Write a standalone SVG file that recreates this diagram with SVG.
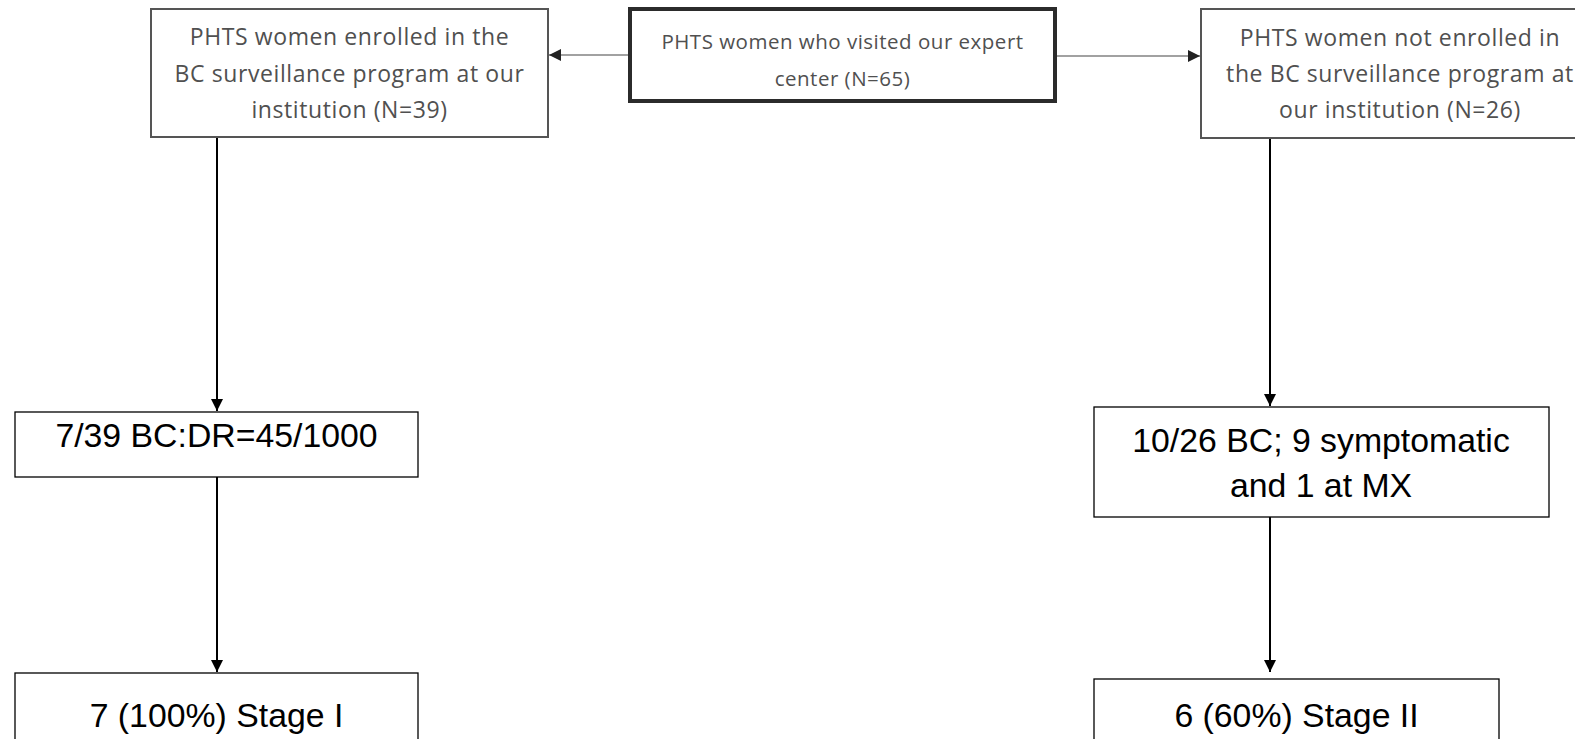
<svg xmlns="http://www.w3.org/2000/svg" width="1575" height="739" viewBox="0 0 1575 739">
<defs>
<style>
.top{fill:#fff;stroke:#555;stroke-width:2}
.center{fill:#fff;stroke:#2b2b2b;stroke-width:4}
.box{fill:#fff;stroke:#000;stroke-width:1.3}
.tt{font-family:"Open Sans",sans-serif;font-size:23px;letter-spacing:0.6px;fill:#505050;text-anchor:middle}
.ct{font-size:20.5px;letter-spacing:0.5px}
.bt{font-family:"Liberation Sans",sans-serif;font-size:33.8px;fill:#000;text-anchor:middle}
.con{stroke:#000;stroke-width:2;fill:none}
.thin{stroke:#444;stroke-width:1.2;fill:none}
</style>
<marker id="ah" viewBox="0 0 10 10" refX="10" refY="5" markerWidth="12" markerHeight="12" markerUnits="userSpaceOnUse" orient="auto">
<path d="M0,0 L10,5 L0,10 z" fill="#000"/>
</marker>
<marker id="ahg" viewBox="0 0 10 10" refX="10" refY="5" markerWidth="12" markerHeight="12" markerUnits="userSpaceOnUse" orient="auto">
<path d="M0,0 L10,5 L0,10 z" fill="#222"/>
</marker>
</defs>
<rect width="1575" height="739" fill="#fff"/>
<g id="connectors">
<line class="thin" x1="630" y1="55" x2="549" y2="55" marker-end="url(#ahg)"/>
<line class="thin" x1="1055" y1="56" x2="1200" y2="56" marker-end="url(#ahg)"/>
<line class="con" x1="217" y1="137" x2="217" y2="411" marker-end="url(#ah)"/>
<line class="con" x1="217" y1="477" x2="217" y2="672" marker-end="url(#ah)"/>
<line class="con" x1="1270" y1="138" x2="1270" y2="406" marker-end="url(#ah)"/>
<line class="con" x1="1270" y1="517" x2="1270" y2="672" marker-end="url(#ah)"/>
</g>
<g id="enrolled">
<rect class="top" x="151" y="9" width="397" height="128"/>
<text class="tt" x="349.5" y="45">PHTS women enrolled in the</text>
<text class="tt" x="349.5" y="82">BC surveillance program at our</text>
<text class="tt" x="349.5" y="118">institution (N=39)</text>
</g>
<g id="visited">
<rect class="center" x="630" y="9" width="425" height="92"/>
<text class="tt ct" x="842.5" y="49">PHTS women who visited our expert</text>
<text class="tt ct" x="842.5" y="86">center (N=65)</text>
</g>
<g id="not-enrolled">
<rect class="top" x="1201" y="9" width="398" height="129"/>
<text class="tt" x="1400" y="46">PHTS women not enrolled in</text>
<text class="tt" x="1400" y="82">the BC surveillance program at</text>
<text class="tt" x="1400" y="118">our institution (N=26)</text>
</g>
<g id="bc-enrolled">
<rect class="box" x="15" y="412" width="403" height="65"/>
<text class="bt" x="216.5" y="447">7/39 BC:DR=45/1000</text>
</g>
<g id="bc-not-enrolled">
<rect class="box" x="1094" y="407" width="455" height="110"/>
<text class="bt" x="1321" y="452">10/26 BC; 9 symptomatic</text>
<text class="bt" x="1321" y="497">and 1 at MX</text>
</g>
<g id="stage-enrolled">
<rect class="box" x="15" y="673" width="403" height="80"/>
<text class="bt" x="216.5" y="727">7 (100%) Stage I</text>
</g>
<g id="stage-not-enrolled">
<rect class="box" x="1094" y="679" width="405" height="80"/>
<text class="bt" x="1296.5" y="727">6 (60%) Stage II</text>
</g>
</svg>
